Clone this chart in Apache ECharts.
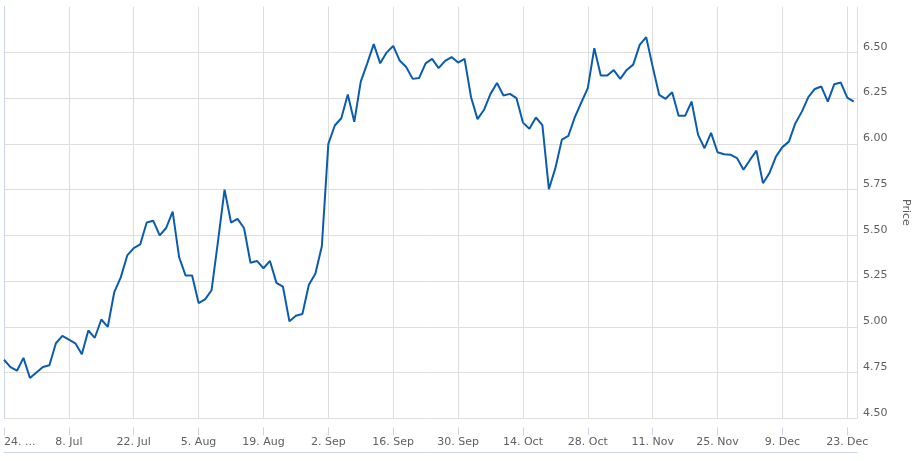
<!DOCTYPE html>
<html>
<head>
<meta charset="utf-8">
<script src="https://cdn.jsdelivr.net/npm/echarts@6/dist/echarts.min.js"></script>
<style>
  html, body { margin: 0; padding: 0; background: #ffffff; }
  #chart { width: 914px; height: 461px; }
</style>
</head>
<body>
<div id="chart"></div>
<script>
// Tick labels, one every 10 trading days starting at index 0 (24 Jun)
var tickLabels = ["24. ...", "8. Jul", "22. Jul", "5. Aug", "19. Aug", "2. Sep", "16. Sep",
                  "30. Sep", "14. Oct", "28. Oct", "11. Nov", "25. Nov", "9. Dec", "23. Dec"];

// Daily prices (trading days)
var pricesJulAug = [
  4.82, 4.78, 4.76, 4.83, 4.72, 4.75, 4.78, 4.79, 4.91, 4.95,
  4.93, 4.91, 4.85, 4.98, 4.94, 5.04, 5.00, 5.19, 5.27, 5.39,
  5.43, 5.45, 5.57, 5.58, 5.50, 5.54, 5.63, 5.38, 5.28, 5.28,
  5.13, 5.15, 5.20, 5.47, 5.75, 5.57, 5.59, 5.54, 5.35, 5.36,
  5.32, 5.36, 5.24, 5.22, 5.03, 5.06, 5.07, 5.23, 5.29, 5.44
];
var pricesSepOct = [
  6.00, 6.10, 6.14, 6.27, 6.12, 6.34, 6.44, 6.545, 6.44, 6.50,
  6.535, 6.455, 6.42, 6.355, 6.36, 6.44, 6.464, 6.414, 6.453, 6.474,
  6.444, 6.464, 6.255, 6.135, 6.186, 6.273, 6.332, 6.264, 6.273, 6.25,
  6.116, 6.083, 6.144, 6.102, 5.752, 5.867, 6.023, 6.043
];
var pricesNovDec = [
  6.146, 6.226, 6.304, 6.523, 6.373, 6.373, 6.403, 6.355, 6.404, 6.433,
  6.541, 6.583, 6.422, 6.268, 6.246, 6.282, 6.153, 6.153, 6.231, 6.049,
  5.976, 6.06, 5.954, 5.943, 5.941, 5.922, 5.858, 5.912, 5.963, 5.785,
  5.840, 5.930, 5.982, 6.012, 6.113, 6.176, 6.255, 6.300, 6.313, 6.231,
  6.326, 6.335, 6.253, 6.231
];

var prices = pricesJulAug.concat(pricesSepOct, pricesNovDec);
var seriesData = prices.map(function (v, i) { return [i, v]; });

var labelColor = '#606060';
var font = 'DejaVu Sans';
var gridColor = '#dedede';

var chart = echarts.init(document.getElementById('chart'), null, { renderer: 'canvas' });
chart.setOption({
  animation: false,
  backgroundColor: '#ffffff',
  textStyle: { fontFamily: font },
  grid: { left: 4, right: 57, top: 6.6, bottom: 42.7, containLabel: false, outerBoundsMode: 'none' },
  xAxis: [{
    type: 'value',
    min: 0,
    max: 131.5,
    interval: 10,
    offset: 9,
    axisLine: { show: false },
    axisTick: { show: true, length: 8, lineStyle: { color: '#ccd6eb', width: 1 } },
    axisLabel: {
      color: labelColor,
      fontSize: 11,
      fontFamily: font,
      margin: 9,
      alignMinLabel: 'left',
      showMaxLabel: false,
      formatter: function (v) {
        var k = Math.round(v / 10);
        return tickLabels[k] !== undefined ? tickLabels[k] : '';
      }
    },
    splitLine: { show: true, lineStyle: { color: gridColor, width: 1 } }
  }, {
    type: 'value',
    min: 0,
    max: 131.5,
    position: 'bottom',
    offset: 34,
    axisLine: { show: true, lineStyle: { color: '#ccd6eb', width: 1 } },
    axisTick: { show: false },
    axisLabel: { show: false },
    splitLine: { show: false }
  }],
  yAxis: {
    type: 'value',
    position: 'right',
    min: 4.5,
    max: 6.75,
    interval: 0.25,
    name: 'Price',
    nameLocation: 'middle',
    nameRotate: -90,
    nameGap: 43,
    nameTextStyle: { color: labelColor, fontSize: 11, fontFamily: font },
    axisLine: { show: true, lineStyle: { color: '#ccd6eb', width: 1 } },
    axisTick: { show: false },
    axisLabel: {
      color: labelColor,
      fontSize: 11,
      fontFamily: font,
      margin: 6,
      align: 'left',
      verticalAlign: 'bottom',
      showMaxLabel: false,
      formatter: function (v) { return v.toFixed(2); }
    },
    splitLine: { show: true, showMaxLine: false, lineStyle: { color: gridColor, width: 1 } }
  },
  series: [{
    type: 'line',
    xAxisIndex: 0,
    data: seriesData,
    showSymbol: false,
    symbol: 'none',
    smooth: false,
    lineStyle: { color: '#0c5cae', width: 2 },
    itemStyle: { color: '#0c5cae' }
  }]
});
</script>
</body>
</html>
